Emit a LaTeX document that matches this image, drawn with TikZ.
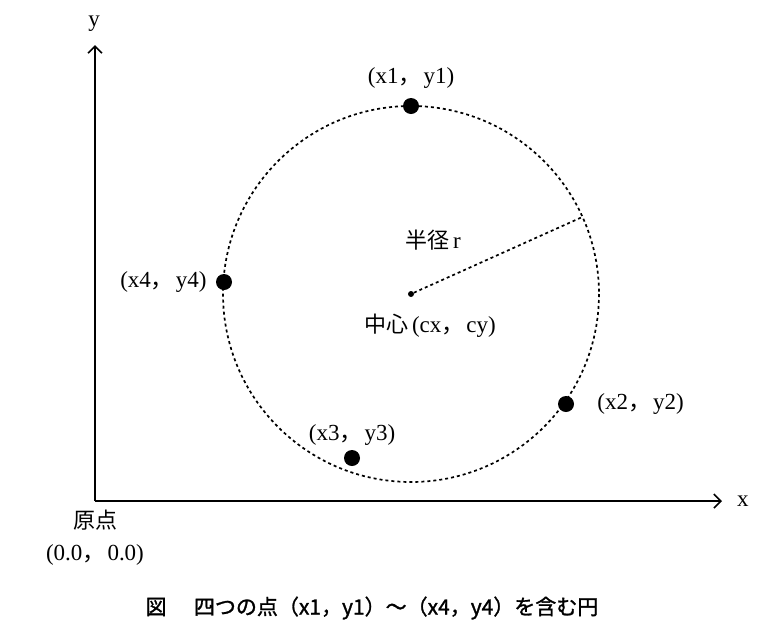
\documentclass[tikz,border=0pt]{standalone}
\usepackage{fontspec}
\setmainfont{Liberation Serif}
\newfontfamily\jpfont{Noto Sans CJK JP}
\newfontfamily\jpcapfont[FakeBold=1.3]{Noto Sans CJK JP}
\usetikzlibrary{positioning,calc,arrows.meta}
\newcommand{\jc}{{\jpfont ，}\hspace{2pt}}
\tikzset{%
  ptDot/.style={%
    circle,
    fill=black,
    inner sep=0pt,
    minimum size=16pt
  },
  centerDot/.style={%
    circle,
    fill=black,
    inner sep=0pt,
    minimum size=6pt
  },
  coordLabel/.style={%
    font=\fontsize{23}{27}\selectfont,
    inner sep=1pt
  },
  axisLine/.style={%
    -{Straight Barb[length=7pt,width=14pt]},
    line width=1.6pt
  },
  dotCircle/.style={%
    line width=1.7pt,
    dash pattern=on 3pt off 3pt
  }
}

\begin{document}
\begin{tikzpicture}[x=1pt,y=-1pt]
  \useasboundingbox (0,0) rectangle (780,638);
  % axes
  \coordinate (origin) at (95,501);
  \coordinate (yEnd) at (95,45);
  \coordinate (xEnd) at (722,501);
  \draw[axisLine] (origin) -- (yEnd);
  \draw[axisLine] (origin) -- (xEnd);
  \node[coordLabel] (yLabel) at (94,24) {y};
  \node[coordLabel, right=14pt of xEnd] (xLabel) {x};
  \node[coordLabel, font=\jpfont\fontsize{22}{26}\selectfont] (originName) at (95,520) {原点};
  \node[coordLabel] (originVal) at (95,555) {(0.0\jc 0.0)};

  % circle and radius
  \node[centerDot] (c) at (411,294) {};
  \draw[dotCircle] (c.center) circle[radius=188];
  \coordinate (rimPt) at ($(c.center)+(-24.2:188)$);
  \draw[dotCircle] (c) -- (rimPt);
  \node[coordLabel] (radLabel) at (433,240) {{\jpfont\fontsize{22}{26}\selectfont 半径}\,r};
  \node[coordLabel] (cLabel) at (430,326) {{\jpfont\fontsize{22}{26}\selectfont 中心}\,(cx\jc cy)};

  % four points
  \node[ptDot] (p1) at (411,106) {};
  \node[ptDot] (p2) at (566,404) {};
  \node[ptDot] (p3) at (352,458) {};
  \node[ptDot] (p4) at (224,282) {};
  \node[coordLabel, above=8pt of p1] (p1Label) {(x1\jc y1)};
  \node[coordLabel, right=22pt of p2] (p2Label) {(x2\jc y2)};
  \node[coordLabel, above=3pt of p3] (p3Label) {(x3\jc y3)};
  \node[coordLabel, left=8pt of p4] (p4Label) {(x4\jc y4)};

  % caption
  \node[font=\jpcapfont\fontsize{21}{25}\selectfont] (caption) at (372,608)
    {図\hspace{1.3em}四つの点（x1，y1）～（x4，y4）を含む円};
\end{tikzpicture}
\end{document}
